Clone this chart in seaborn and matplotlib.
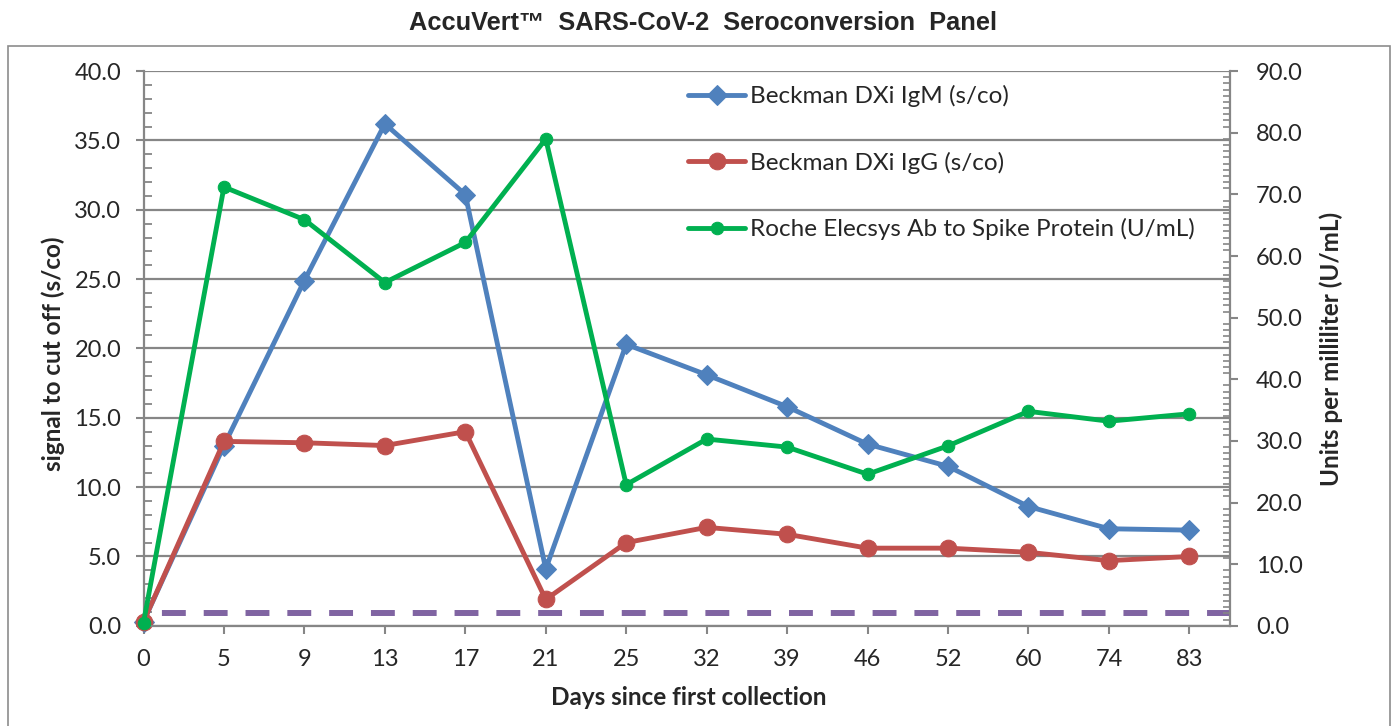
import numpy as np
import pandas as pd
import matplotlib
matplotlib.use("Agg")
import matplotlib.pyplot as plt
import seaborn as sns
from matplotlib.patches import Rectangle
from matplotlib.ticker import MultipleLocator, FormatStrFormatter

# ---- data ----
days = ["0", "5", "9", "13", "17", "21", "25", "32", "39", "46", "52", "60", "74", "83"]
igm = [0.3, 13.0, 24.9, 36.2, 31.1, 4.1, 20.3, 18.1, 15.8, 13.1, 11.5, 8.6, 7.0, 6.9]
igg = [0.3, 13.3, 13.2, 13.0, 14.0, 1.9, 6.0, 7.1, 6.6, 5.6, 5.6, 5.3, 4.7, 5.0]
roche = [0.5, 71.2, 65.9, 55.7, 62.2, 79.0, 22.9, 30.3, 29.0, 24.6, 29.2, 34.8, 33.2, 34.4]
cutoff = 0.9

labels = ["Beckman DXi IgM (s/co)", "Beckman DXi IgG (s/co)",
          "Roche Elecsys Ab to Spike Protein (U/mL)"]

blue, red, green, purple = "#4F81BD", "#C0504D", "#00B050", "#8064A2"
grey = "#868686"

sns.set_style("white")
plt.rcParams["font.family"] = ["Lato", "DejaVu Sans"]

fig = plt.figure(figsize=(13.96, 7.26), dpi=100)
ax = fig.add_axes([0.1028, 0.138, 0.7780, 0.764])
ax2 = ax.twinx()

# cutoff line
ax.axhline(cutoff, color=purple, lw=4.3, linestyle=(4, (4, 3)), zorder=1.5)

sns.lineplot(x=days, y=igm, ax=ax, sort=False, color=blue, lw=3.5,
             marker="D", markersize=10, markeredgecolor=blue, label=labels[0])
sns.lineplot(x=days, y=igg, ax=ax, sort=False, color=red, lw=3.5,
             marker="o", markersize=12, markeredgecolor=red, label=labels[1])
sns.lineplot(x=days, y=roche, ax=ax2, sort=False, color=green, lw=3.5,
             marker="o", markersize=9, markeredgecolor=green, label=labels[2])

for a in (ax, ax2):
    for ln in a.lines:
        ln.set_clip_on(False)
    if a.get_legend() is not None:
        a.get_legend().remove()

# axes limits / ticks
ax.set_xlim(0, 13.5)
ax.set_ylim(0, 40)
ax2.set_ylim(0, 90)
ax.yaxis.set_major_locator(MultipleLocator(5))
ax.yaxis.set_minor_locator(MultipleLocator(1))
ax2.yaxis.set_major_locator(MultipleLocator(10))
ax2.yaxis.set_minor_locator(MultipleLocator(1))
ax.yaxis.set_major_formatter(FormatStrFormatter("%.1f"))
ax2.yaxis.set_major_formatter(FormatStrFormatter("%.1f"))

ax.yaxis.grid(True, color=grey, lw=1.6)
ax.xaxis.grid(False)
ax2.grid(False)

ax.tick_params(axis="y", which="major", direction="out", length=6, width=1.5,
               color=grey, labelsize=17, pad=10, left=True)
ax.tick_params(axis="y", which="minor", direction="in", length=6, width=1.3,
               color=grey, left=True)
ax2.tick_params(axis="y", which="major", direction="out", length=6, width=1.5,
                color=grey, labelsize=17, pad=13, right=True)
ax2.tick_params(axis="y", which="minor", direction="in", length=5, width=1.2,
                color=grey, right=True)
ax.tick_params(axis="x", which="major", direction="out", length=6, width=1.5,
               color=grey, labelsize=17, pad=11, bottom=True)

for a in (ax, ax2):
    for s in a.spines.values():
        s.set_color(grey)
        s.set_linewidth(1.6)
    a.spines["top"].set_visible(False)
ax.spines["right"].set_visible(False)
ax2.spines["left"].set_visible(False)
ax2.spines["bottom"].set_visible(False)

# labels
ax.set_xlabel("Days since first collection", fontsize=17.5, fontweight="bold")
ax.xaxis.set_label_coords(0.502, -0.108)
ax.set_ylabel("signal to cut off (s/co)", fontsize=17.5, fontweight="bold")
ax.yaxis.set_label_coords(-0.072, 0.49)
ax2.set_ylabel("Units per milliliter (U/mL)", fontsize=17.5, fontweight="bold")
ax2.yaxis.set_label_coords(1.083, 0.5)

fig.text(0.5035, 1 - 23 / 726, "AccuVert\u2122  SARS-CoV-2  Seroconversion  Panel",
         ha="center", va="center", fontsize=18.3, fontweight="bold",
         family="Liberation Sans")

# legend
handles = ax.get_lines()[1:] + ax2.get_lines()
fig.legend(handles, labels, loc="upper left", bbox_to_anchor=(688 / 1396, 1 - 85 / 726),
           frameon=False, prop={"size": 17.5},
           labelspacing=1.83, handlelength=2.35, handletextpad=0.2,
           borderpad=0, borderaxespad=0, numpoints=1)

# outer frame
fig.add_artist(Rectangle((8 / 1396, -0.02), (1390 - 8) / 1396, 1 - 46 / 726 + 0.02,
                         transform=fig.transFigure, fill=False, ec="#8c8c8c", lw=1.2))

fig.savefig("out.png", dpi=100)
